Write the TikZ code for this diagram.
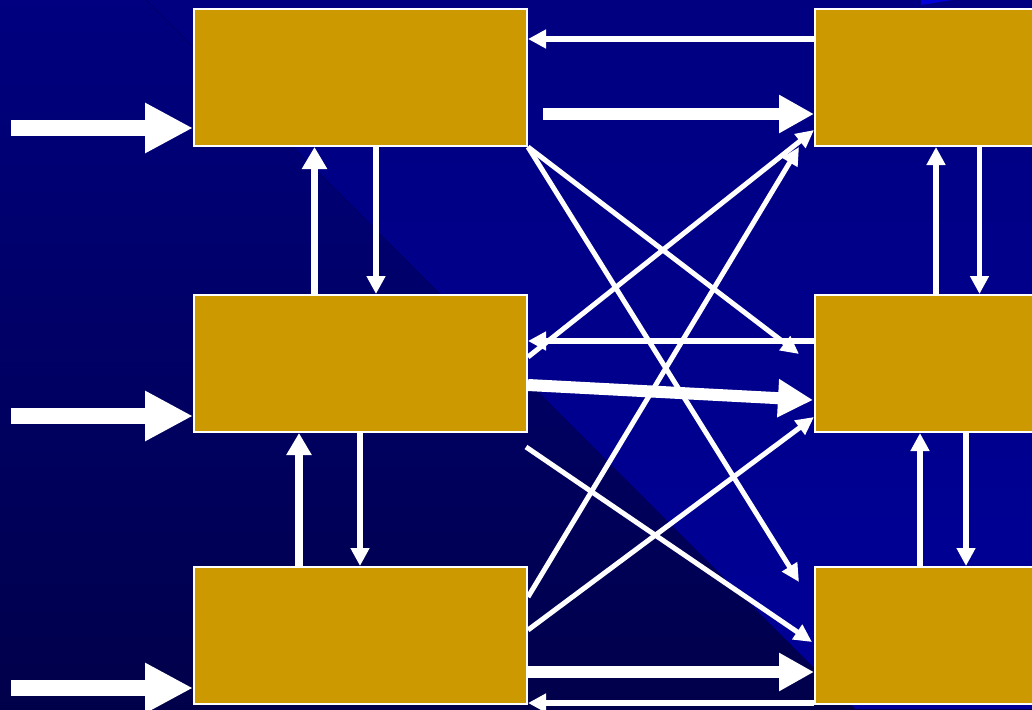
\documentclass[tikz,border=0pt]{standalone}
\usetikzlibrary{arrows.meta,calc}
\definecolor{boxfill}{RGB}{204,153,0}
\definecolor{bgtop}{RGB}{0,0,128}
\definecolor{bgbot}{RGB}{0,0,74}
\definecolor{bgrbot}{RGB}{0,0,152}
\definecolor{sliver}{RGB}{0,0,215}
\tikzset{
  box/.style={draw=white, line width=2pt, fill=boxfill, rectangle, inner sep=0pt, anchor=north west},
  lbox/.style={box, minimum width=333pt, minimum height=137pt},
  rbox/.style={box, minimum width=240pt, minimum height=137pt},
  inarrow/.style={white, line width=16pt, -{Triangle[length=48pt,width=47pt]}},
  fatarrow/.style={white, line width=12pt, -{Triangle[length=35pt,width=36pt]}},
  thinarrow/.style={white, line width=5.5pt, -{Triangle[length=18pt,width=18pt]}},
  diagarrow/.style={white, line width=5pt, -{Triangle[length=18pt,width=17pt]}},
  uparrow/.style={white, line width=7.5pt, -{Triangle[length=22pt,width=24pt]}},
}
\begin{document}
\begin{tikzpicture}[x=1pt,y=-1pt]
\useasboundingbox (0,0) rectangle (1032,709);
\clip (0,0) rectangle (1032,709);
% background
\fill[top color=bgtop, bottom color=bgbot] (0,0) rectangle (1032,709);
\fill[top color=bgtop, bottom color=bgrbot] (146,0) -- (1032,0) -- (1032,709) -- (855,709) -- cycle;
\fill[sliver] (921,0) -- (952,0) -- (921,5) -- cycle;
% boxes
\node[lbox] (A) at (193,8) {};
\node[lbox] (B) at (193,294) {};
\node[lbox] (C) at (193,566) {};
\node[rbox] (D) at (814,8) {};
\node[rbox] (E) at (814,294) {};
\node[rbox] (F) at (814,566) {};
% input arrows
\coordinate (inA) at (11,128);
\coordinate (inB) at (11,416);
\coordinate (inC) at (11,688);
\draw[inarrow] (inA) -- (inA -| A.west);
\draw[inarrow] (inB) -- (inB -| B.west);
\draw[inarrow] (inC) -- (inC -| C.west);
% vertical arrows left
\draw[uparrow] ($(B.north west)+(121.5,0)$) -- ($(A.south west)+(121.5,0)$);
\draw[thinarrow] ($(A.south west)+(183,0)$) -- ($(B.north west)+(183,0)$);
\draw[uparrow] ($(C.north west)+(106,0)$) -- ($(B.south west)+(106,0)$);
\draw[thinarrow] ($(B.south west)+(167,0)$) -- ($(C.north west)+(167,0)$);
% vertical arrows right
\draw[thinarrow] ($(E.north west)+(122,0)$) -- ($(D.south west)+(122,0)$);
\draw[thinarrow] ($(D.south west)+(165.5,0)$) -- ($(E.north west)+(165.5,0)$);
\draw[thinarrow] ($(F.north west)+(106,0)$) -- ($(E.south west)+(106,0)$);
\draw[thinarrow] ($(E.south west)+(152,0)$) -- ($(F.north west)+(152,0)$);
% horizontal arrows
\draw[thinarrow] ($(D.north west)+(0,31)$) -- ($(A.north east)+(0,31)$);
\draw[fatarrow] ($(A.north east)+(15,106)$) -- ($(D.north west)+(0,106)$);
\draw[thinarrow] ($(E.north west)+(0,47)$) -- ($(B.north east)+(0,47)$);
\draw[fatarrow] ($(B.north east)+(0,91)$) -- ($(E.north west)+(-1,106)$);
\draw[fatarrow] ($(C.north east)+(0,106)$) -- ($(F.north west)+(0,106)$);
\draw[thinarrow] ($(F.north west)+(0,137)$) -- ($(C.north east)+(0,137)$);
% diagonal arrows
\coordinate (bstart) at (526,447);
\draw[diagarrow] (A.south east) -- ($(F.north west)+(-15,16)$);
\draw[diagarrow] (A.south east) -- ($(E.north west)+(-15,60)$);
\draw[diagarrow] ($(B.north east)+(0,63)$) -- ($(D.north west)+(0,122)$);
\draw[diagarrow] ($(C.north east)+(0,31)$) -- ($(D.south west)+(-15,0)$);
\draw[diagarrow] ($(C.north east)+(0,64)$) -- ($(E.north west)+(0,123)$);
\draw[diagarrow] (bstart) -- ($(F.north west)+(-2,76)$);
\end{tikzpicture}
\end{document}
